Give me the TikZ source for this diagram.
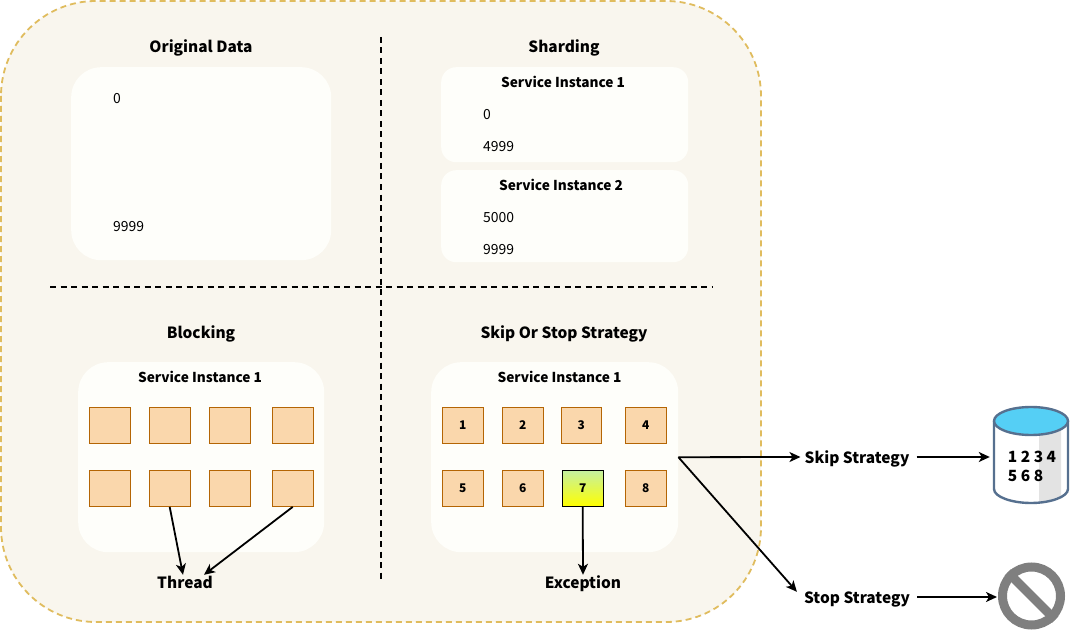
\documentclass[tikz,border=0pt]{standalone}
\usepackage{fontspec}
\setmainfont{Noto Sans CJK SC}
\usetikzlibrary{arrows.meta,calc}
\definecolor{outerfill}{HTML}{F9F6EE}
\definecolor{outerline}{HTML}{E0BC5E}
\definecolor{innerfill}{HTML}{FEFEFA}
\definecolor{sqfill}{HTML}{FAD7AC}
\definecolor{sqline}{HTML}{B46504}
\definecolor{sqtopgreen}{HTML}{C5F0A0}
\definecolor{dbline}{HTML}{56708F}
\definecolor{dbtop}{HTML}{55CFF5}
\definecolor{dbshade}{HTML}{E3E3E3}
\definecolor{ban}{HTML}{7F7F7F}
\tikzset{
  x=1bp,y=-1bp,
  panel/.style={draw=none,fill=innerfill,rounded corners=#1,inner sep=0pt,anchor=north west},
  heading/.style={font=\bfseries\fontsize{15.5}{19}\selectfont,text=black,inner sep=0pt,text height=12bp,text depth=0bp},
  subhead/.style={font=\bfseries\fontsize{13.7}{17}\selectfont,text=black,inner sep=0pt},
  num/.style={font=\fontsize{14}{17}\selectfont,text=black,inner sep=0pt,anchor=west},
  sq/.style={draw=sqline,fill=sqfill,line width=0.9bp,minimum width=40.5bp,minimum height=36bp,inner sep=0pt,anchor=north west,font=\bfseries\fontsize{12}{14}\selectfont},
  conn/.style={draw=black,line width=1.8bp,-{Stealth[length=11bp,width=10bp,inset=3bp]}},
  divider/.style={draw=black,line width=1.7bp,dash pattern=on 6bp off 4.5bp},
}
\begin{document}
\begin{tikzpicture}
\useasboundingbox (0,0) rectangle (1070,631);
\fill[white] (0,0) rectangle (1070,631);
\draw[fill=outerfill,draw=outerline,line width=1.8bp,dash pattern=on 6bp off 4bp,rounded corners=95bp] (1,1) rectangle (761,622);
% dividers
\coordinate (vtop) at (381,37);
\coordinate (vbot) at (381,583);
\coordinate (hleft) at (50,287);
\coordinate (hright) at (712,287);
\draw[divider] (vtop) -- (vbot);
\draw[divider] (hleft) -- (hright);
% panels
\node[panel=30bp,minimum width=260bp,minimum height=193bp] (orig) at (71,67) {};
\node[panel=15bp,minimum width=247bp,minimum height=95bp] (sh1) at (441,67) {};
\node[panel=15bp,minimum width=247bp,minimum height=92bp] (sh2) at (441,170) {};
\node[panel=30bp,minimum width=246bp,minimum height=190bp] (blk) at (78,362) {};
\node[panel=30bp,minimum width=247bp,minimum height=190bp] (skp) at (431,362) {};
% headings
\node[heading] (hOrig) at (201,47) {Original Data};
\node[heading] (hShard) at (564,47) {Sharding};
\node[heading] (hBlock) at (201,332) {Blocking};
\node[heading] (hSkip) at (564,332) {Skip Or Stop Strategy};
\node[subhead] (t1) at (563,82) {Service Instance 1};
\node[subhead] (t2) at (561,185) {Service Instance 2};
\node[subhead] (t3) at (200,377) {Service Instance 1};
\node[subhead] (t4) at (559.5,377) {Service Instance 1};
% numbers
\node[num] (n0) at (113,99) {0};
\node[num] (n9) at (113,227) {9999};
\node[num] (a0) at (483,115) {0};
\node[num] (a1) at (483,147) {4999};
\node[num] (b0) at (483,218) {5000};
\node[num] (b1) at (483,250) {9999};
% blocking squares
\node[sq] (b1s) at (89,407) {};
\node[sq] (b2s) at (149,407) {};
\node[sq] (b3s) at (209,407) {};
\node[sq] (b4s) at (272,407) {};
\node[sq] (b5s) at (89,470) {};
\node[sq] (b6s) at (149,470) {};
\node[sq] (b7s) at (209,470) {};
\node[sq] (b8s) at (272,470) {};
% strategy squares
\node[sq] (s1) at (442,407) {1};
\node[sq] (s2) at (502,407) {2};
\node[sq] (s3) at (560.5,407) {3};
\node[sq] (s4) at (625,407) {4};
\node[sq] (s5) at (442,470) {5};
\node[sq] (s6) at (502,470) {6};
\node[sq,draw=black,top color=sqtopgreen,bottom color=yellow] (s7) at (562,470) {7};
\node[sq] (s8) at (625,470) {8};
% labels
\node[heading] (thread) at (185,582) {Thread};
\node[heading] (exc) at (583,582) {Exception};
\node[heading] (skipS) at (857,457) {Skip Strategy};
\node[heading] (stopS) at (857,597) {Stop Strategy};
% database
\node[minimum width=74bp,minimum height=96bp,inner sep=0pt] (db) at (1031,455) {};
\fill[white] (994,421) -- (994,489) .. controls (994,497) and (1012,503) .. (1031,503) .. controls (1050,503) and (1068,497) .. (1068,489) -- (1068,421) -- cycle;
\fill[dbshade] (1039,421) -- (1061,421) -- (1061,498) -- (1039,502) -- cycle;
\draw[dbline,line width=2.4bp] (994,421) -- (994,489) .. controls (994,497) and (1012,503) .. (1031,503) .. controls (1050,503) and (1068,497) .. (1068,489) -- (1068,421);
\draw[dbline,line width=2.4bp,fill=dbtop] (1031,421) ellipse[x radius=37,y radius=14];
\node[font=\bfseries\fontsize{15.5}{19}\selectfont,align=left,inner sep=0pt] (dbt) at (1032,466) {1 2 3 4\\5 6 8};
% prohibition sign
\node[circle,draw=ban,line width=9bp,minimum size=58bp,inner sep=0pt] (no) at (1031.5,596) {};
\draw[ban,line width=9bp] (no.north west) -- (no.south east);
% connectors
\draw[conn] (b6s.south) -- ($(thread.north)+(-2,-1)$);
\draw[conn] (b8s.south) -- ($(thread.north)+(19,-1)$);
\draw[conn] (s7.south) -- ($(exc.north)+(0,-1)$);
\draw[conn] (skp.east) -- ($(skipS.west)+(-4,0)$);
\coordinate (stopEnd) at ($(stopS.north west)+(-7,1)$);
\draw[conn] (skp.east) -- (stopEnd);
\coordinate (dbIn) at ($(db.west |- skipS.east)+(-4,0)$);
\coordinate (noIn) at ($(no.west |- stopS.east)+(-1,0)$);
\draw[conn] ($(skipS.east)+(7,0)$) -- (dbIn);
\draw[conn] ($(stopS.east)+(7,0)$) -- (noIn);
\end{tikzpicture}
\end{document}
